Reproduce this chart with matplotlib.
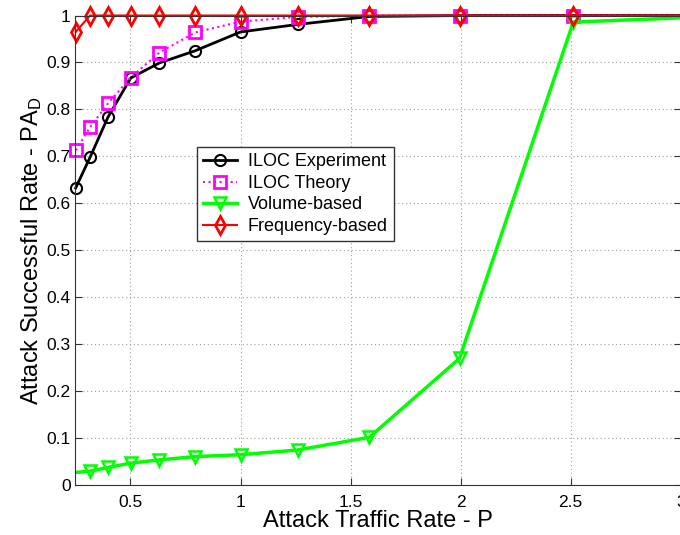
import matplotlib
matplotlib.use("Agg")
import matplotlib.pyplot as plt

plt.rcParams['font.family'] = ['Liberation Sans', 'DejaVu Sans']
plt.rcParams['mathtext.fontset'] = 'custom'
plt.rcParams['mathtext.rm'] = 'Liberation Sans'
plt.rcParams['mathtext.it'] = 'Liberation Sans'

# attack traffic rates (10^(k/10) steps)
rate = [0.251, 0.316, 0.398, 0.501, 0.631, 0.794, 1.0, 1.259, 1.585, 1.995, 2.512, 3.162]
iloc_exp = [0.633, 0.698, 0.784, 0.867, 0.899, 0.925, 0.965, 0.981, 0.998, 1.0, 1.0, 1.0]
iloc_theory = [0.713, 0.762, 0.813, 0.868, 0.921, 0.964, 0.987, 0.997, 1.0, 1.0, 1.0, 1.0]
freq_based = [0.965, 1.0, 1.0, 1.0, 1.0, 1.0, 1.0, 1.0, 1.0, 1.0, 1.0, 1.0]

vol_rate = [0.1995, 0.316, 0.398, 0.501, 0.631, 0.794, 1.0, 1.259, 1.585, 1.995, 2.512, 3.162]
vol_based = [0.025, 0.030, 0.038, 0.047, 0.054, 0.061, 0.065, 0.075, 0.102, 0.270, 0.986, 0.998]

xticks = [0.5, 1, 1.5, 2, 2.5, 3]
xticklabels = ['0.5', '1', '1.5', '2', '2.5', '3']
yticks = [0, 0.1, 0.2, 0.3, 0.4, 0.5, 0.6, 0.7, 0.8, 0.9, 1]
yticklabels = ['0', '0.1', '0.2', '0.3', '0.4', '0.5', '0.6', '0.7', '0.8', '0.9', '1']

fig = plt.figure(figsize=(6.8, 5.35), dpi=100)
ax = fig.add_axes([0.111, 0.093, 0.890, 0.878])

ax.plot(rate, iloc_exp, color='black', lw=2, marker='o', ms=8,
        mfc='none', mew=1.5, label='ILOC Experiment', clip_on=False)
ax.plot(rate, iloc_theory, color='#FF00FF', lw=1.5, ls=':', marker='s', ms=8.5,
        mfc='none', mew=2, label='ILOC Theory', clip_on=False)
ax.plot(vol_rate, vol_based, color='#00FF00', lw=2.5, marker='v', ms=9,
        mfc='none', mew=1.8, label='Volume-based', markevery=list(range(1, 12)))
ax.plot(rate, freq_based, color='#FF0000', lw=1.5, marker='d', ms=9,
        mfc='none', mew=2, label='Frequency-based', clip_on=False)

ax.set_xlim(0.25, 3)
ax.set_ylim(0, 1)
ax.set_xticks(xticks)
ax.set_xticklabels(xticklabels)
ax.set_yticks(yticks)
ax.set_yticklabels(yticklabels)
ax.tick_params(direction='in', top=True, right=True, labelsize=12.5,
               length=5, color='#333333')
ax.tick_params(axis='x', pad=7)
ax.grid(True, color='#a0a0a0', lw=0.8, dashes=(1, 2.5))
for s in ax.spines.values():
    s.set_color('#333333')

ax.set_xlabel('Attack Traffic Rate - P', fontsize=17, labelpad=0)
ax.set_ylabel('Attack Successful Rate - PA$_{\\mathrm{D}}$', fontsize=17, labelpad=2)

leg = ax.legend(loc='upper left', bbox_to_anchor=(0.2, 0.72), fontsize=13,
                fancybox=False, framealpha=1, edgecolor='#333333',
                borderpad=0.35, labelspacing=0.25, handlelength=1.9,
                handletextpad=0.6, borderaxespad=0)
leg.get_frame().set_linewidth(1)

fig.savefig('out.png', dpi=100)
